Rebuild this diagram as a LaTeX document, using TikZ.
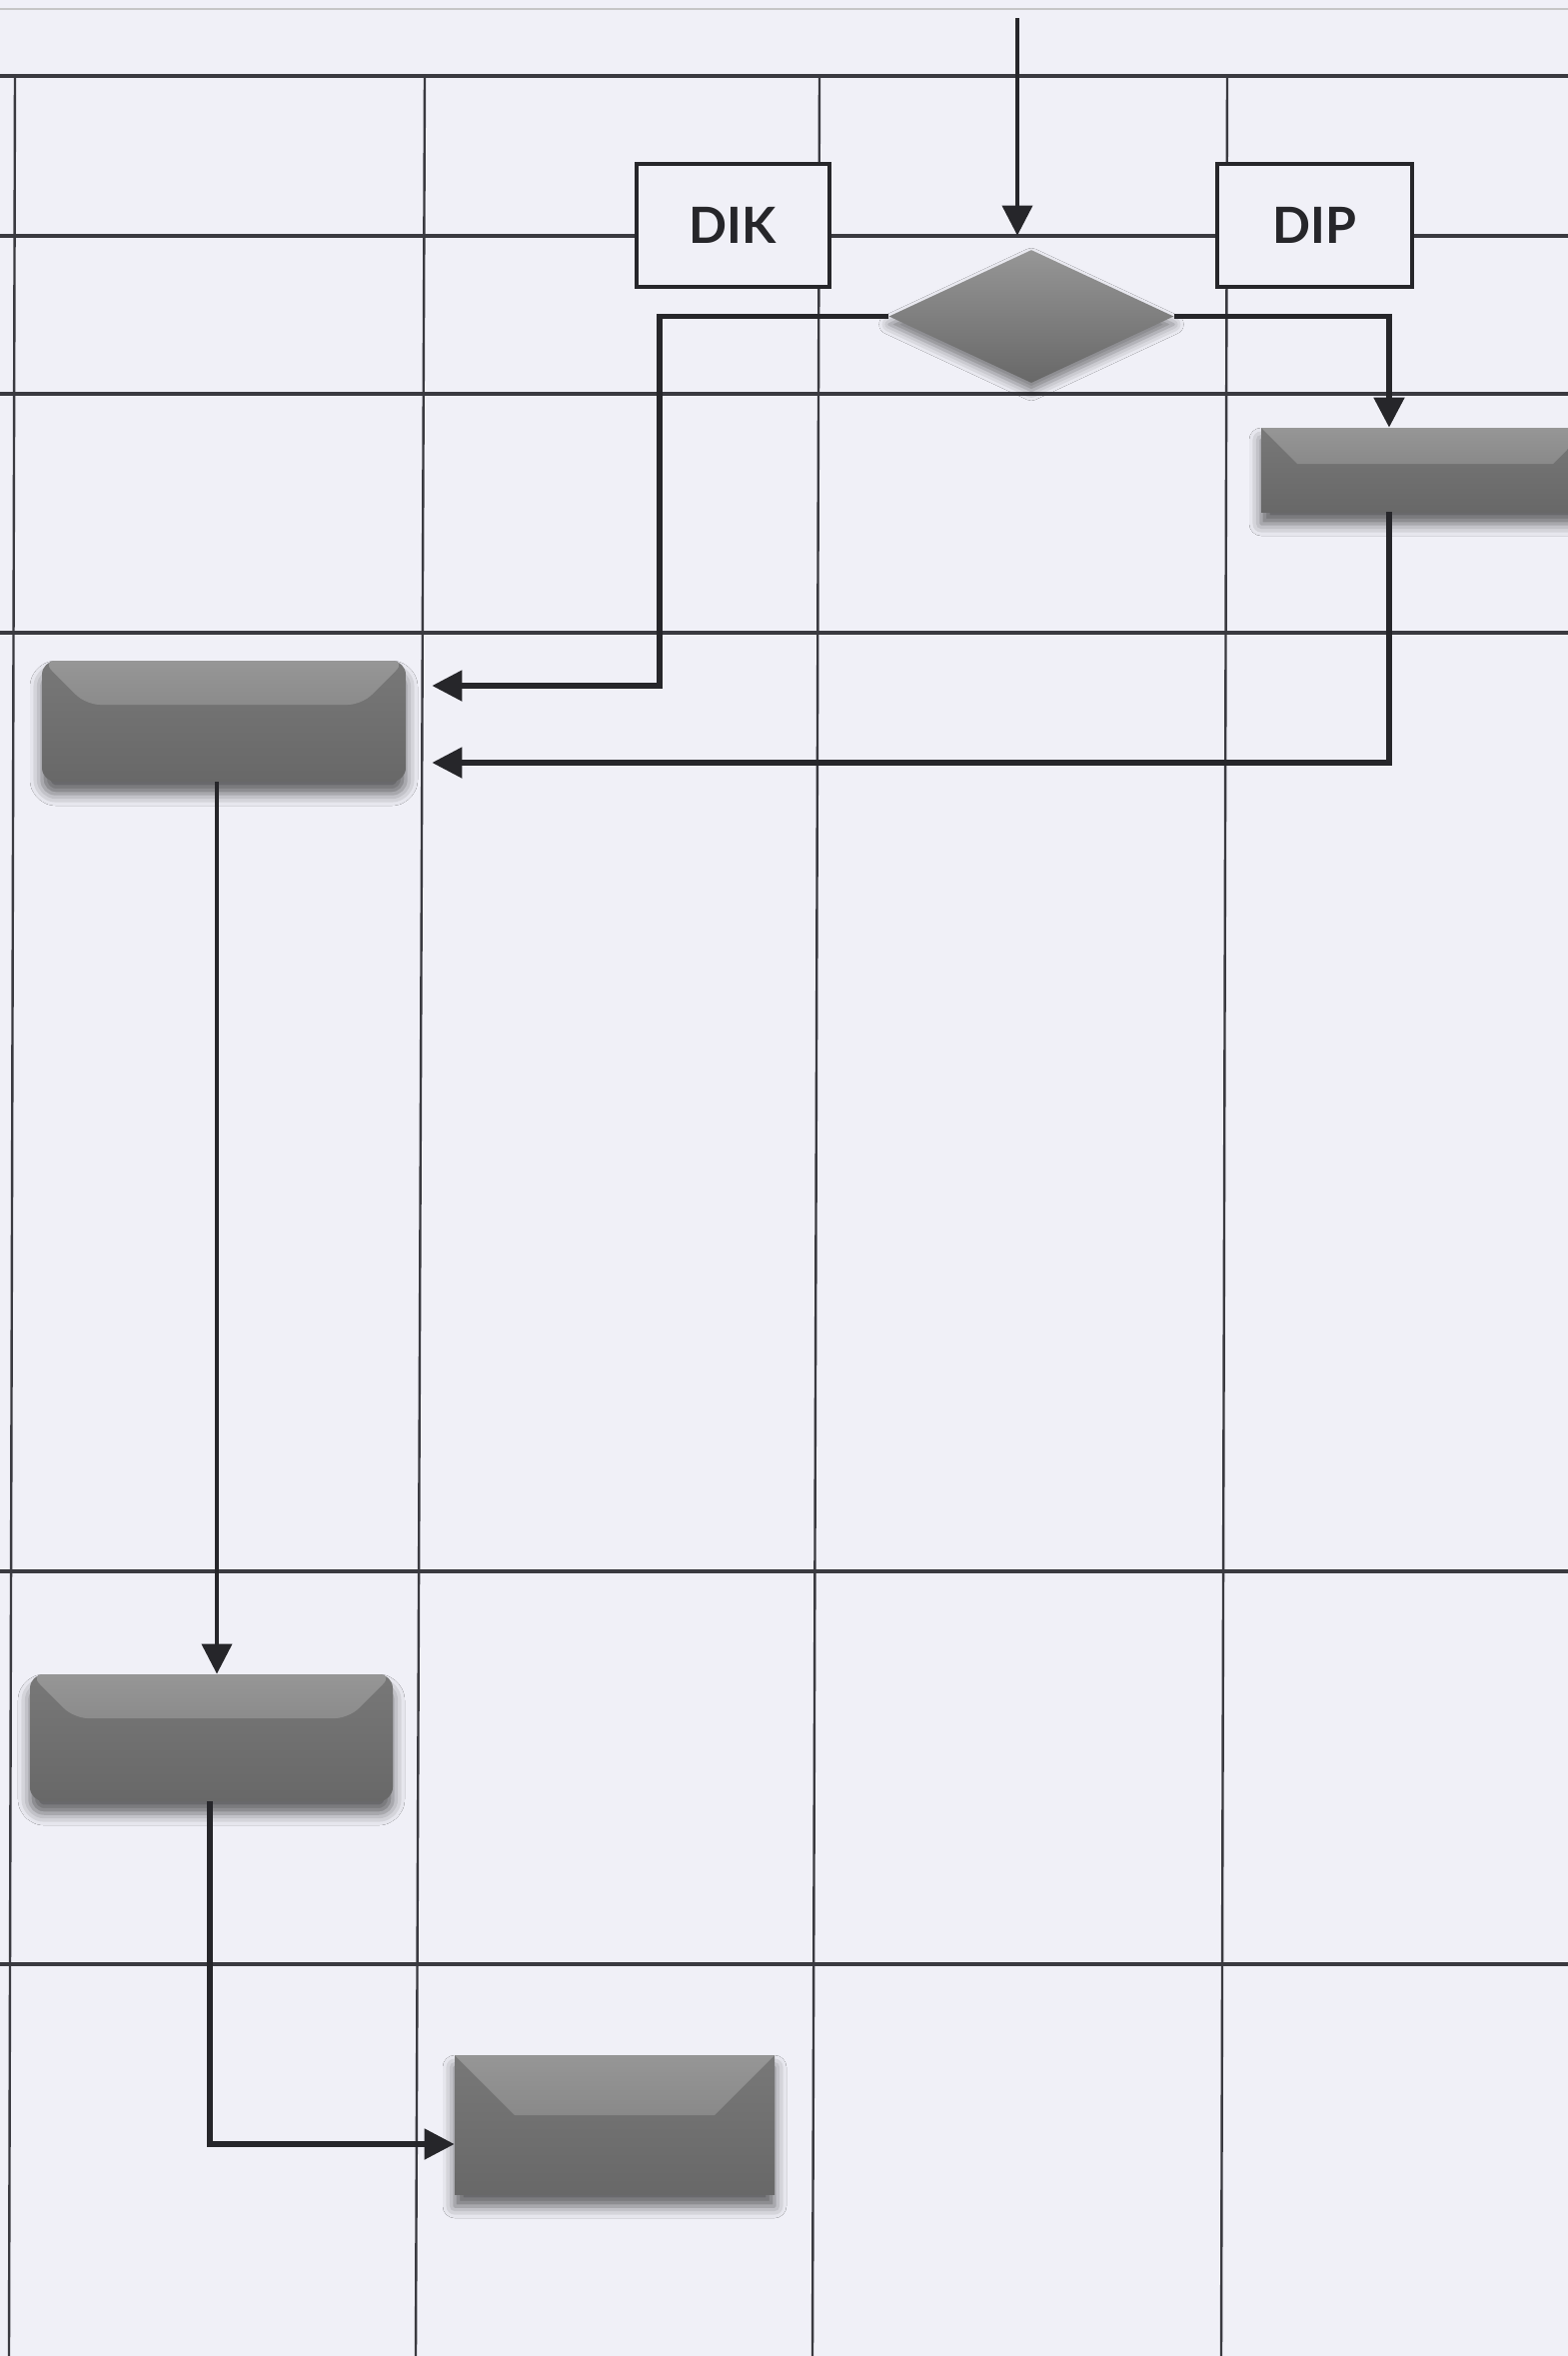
\documentclass[tikz,border=0pt]{standalone}
\usepackage{fontspec}
\setmainfont{Lato}
\usetikzlibrary{arrows.meta,shapes.geometric,shadows.blur,calc}
\definecolor{bg}{RGB}{240,240,247}
\definecolor{grid}{RGB}{58,58,64}
\definecolor{ink}{RGB}{38,38,42}
\definecolor{gtop}{RGB}{150,150,150}
\definecolor{gmid}{RGB}{120,120,120}
\definecolor{gbot}{RGB}{104,104,104}
\tikzset{
  hline/.style={grid, line width=1.6pt},
  vline/.style={grid, line width=1.2pt},
  labelbox/.style={rectangle, draw=ink, line width=2.2pt, fill=bg, inner sep=0pt,
    font=\fontsize{25}{30}\selectfont\bfseries, text=ink},
  conn/.style={ink, line width=2.6pt, -{Triangle[length=15pt,width=15pt]}},
  thinconn/.style={ink, line width=2pt, -{Triangle[length=15pt,width=15pt]}},
  gbox/.style={rectangle, inner sep=0pt, top color=gmid, bottom color=gbot,
    blur shadow={shadow xshift=0pt, shadow yshift=-6pt, shadow blur radius=6pt, shadow opacity=60},
    path picture={\shade[top color=gtop, bottom color=gmid]
      (path picture bounding box.north west) -- (path picture bounding box.north east)
      -- ([xshift=-#1,yshift=-#1]path picture bounding box.north east)
      -- ([xshift=#1,yshift=-#1]path picture bounding box.north west) -- cycle;}},
  dec/.style={diamond, inner sep=0pt, minimum width=142.5pt, minimum height=66.5pt,
    top color=gtop, middle color=gmid, bottom color=gbot,
    blur shadow={shadow xshift=0pt, shadow yshift=-4pt, shadow blur radius=5pt, shadow opacity=50}},
}
\begin{document}
\begin{tikzpicture}[x=0.5pt,y=-0.5pt]
\path[use as bounding box, clip] (0,0) rectangle (1569,2357);
\fill[bg] (0,0) rectangle (1569,2357);
\draw[gray!45, line width=1pt] (0,9) -- (1569,9);
% grid
\foreach \yy in {76,236,394,633,1572,1965} \draw[hline] (0,\yy) -- (1569,\yy);
\draw[vline] (15,76) -- (9,2357);
\draw[vline] (425,76) -- (416,2357);
\draw[vline] (820,76) -- (813,2357);
\draw[vline] (1228,76) -- (1222,2357);
% label boxes
\node[labelbox, minimum width=96.5pt, minimum height=61.5pt] (dik) at (733.5,225.5) {DIK};
\node[labelbox, minimum width=97.5pt, minimum height=61.5pt] (dip) at (1315.5,225.5) {DIP};
% shapes
\node[dec] (dia) at (1032,316.5) {};
\node[gbox=18pt, minimum width=164pt, minimum height=42pt] (box4) at (1426,470) {};
\node[gbox=22pt, rounded corners=7pt, minimum width=182pt, minimum height=60.5pt] (box1) at (224,721.5) {};
\node[gbox=22pt, rounded corners=7pt, minimum width=181.5pt, minimum height=63.5pt] (box2) at (211.5,1738.5) {};
\node[gbox=30pt, minimum width=160pt, minimum height=69.5pt] (box3) at (615,2125.5) {};
% connectors
\coordinate (start) at (1018,18);
\coordinate (cL) at (660,686);
\coordinate (cR) at (1390,763);
\coordinate (cD) at (217,0);
\coordinate (cE) at (210,2145);
\draw[thinconn, shorten >=7pt] (start) -- (start |- dia.north);
\draw[conn, shorten >=13pt] (dia.west) -| (cL) -- (box1.east |- cL);
\draw[conn] (dia.east) -| (cR |- box4.north);
\draw[conn, shorten >=13pt] (cR |- box4.south) -- (cR) -- (box1.east |- cR);
\draw[thinconn] (cD |- box1.south) -- (cD |- box2.north);
\draw[conn] (cE |- box2.south) -- (cE) -- (box3.west |- cE);
\end{tikzpicture}
\end{document}
